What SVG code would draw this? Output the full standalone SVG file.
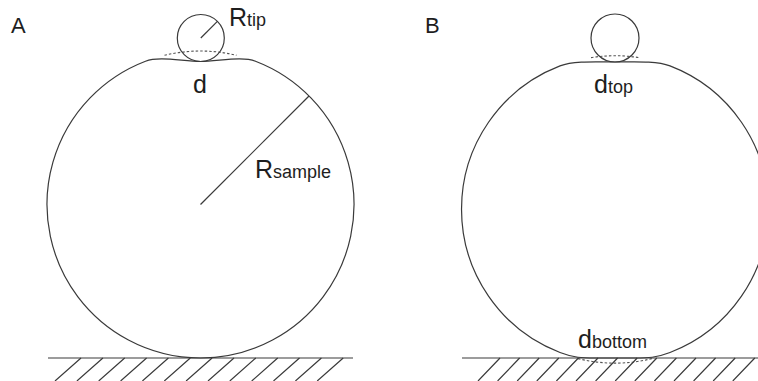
<svg xmlns="http://www.w3.org/2000/svg" width="758" height="381" viewBox="0 0 758 381">
<defs>
<style>
.ln{fill:none;stroke:#3a3a3a;stroke-width:1.2}
.dash{fill:none;stroke:#555;stroke-width:1.1;stroke-dasharray:2.5 2}
.lbl{font-family:"Liberation Sans",Arial,sans-serif;fill:#1e1e1e}
.big{font-size:25px}
.sub{font-size:18px}
.pan{font-size:22px}
</style>
</defs>
<rect width="758" height="381" fill="#ffffff"/>

<g id="panel-A">
  <text class="lbl pan" x="11" y="33">A</text>
  <g id="sample-A">
    <path class="ln" d="M145.5,61.2 A153.5,153.5 0 1 0 255.5,61.2 C241.5,55.8 218,61.5 200.5,61.5 C183,61.5 159.5,55.8 145.5,61.2 Z"/>
    <path class="dash" d="M164.5,55.3 A153.5,153.5 0 0 1 236.5,55.3"/>
  </g>
  <g id="tip-A">
    <circle class="ln" cx="200.8" cy="38" r="23.5"/>
  </g>
  <g id="ground-A">
    <path class="ln" d="M48,358 H353"/>
    <path class="ln" d="M81,358 l-26,23 M102.9,358 l-26,23 M124.7,358 l-26,23 M146.6,358 l-26,23 M168.4,358 l-26,23 M190.3,358 l-26,23 M212.1,358 l-26,23 M234,358 l-26,23 M255.8,358 l-26,23 M277.7,358 l-26,23 M299.5,358 l-26,23 M321.4,358 l-26,23 M343.2,358 l-26,23"/>
  </g>
  <text class="lbl big" x="193" y="93">d</text>
  <text class="lbl big" x="229" y="26">R<tspan class="sub">tip</tspan></text>
  <text class="lbl big" x="255" y="178">R<tspan class="sub" font-size="19">sample</tspan></text>
</g>

<g id="panel-B">
  <text class="lbl pan" x="425" y="33">B</text>
  <g id="sample-B">
    <path class="ln" d="M560,65.9 A153.5,153.5 0 0 0 560,352.5 C574,357.9 582,358 595,358 L635,358 C648,358 656,357.9 670,352.5 A153.5,153.5 0 0 0 670,65.9 C656,60.5 632,62 615,62 C598,62 574,60.5 560,65.9 Z"/>
    <path class="dash" d="M591,57.6 A153.5,153.5 0 0 1 639,57.6"/>
    <path class="dash" d="M578,358.6 A153.5,153.5 0 0 0 652,358.6"/>
  </g>
  <g id="tip-B">
    <circle class="ln" cx="615" cy="38" r="24"/>
  </g>
  <g id="ground-B">
    <path class="ln" d="M462,358 H758"/>
    <path class="ln" d="M500,358 l-22,23 M519.6,358 l-22,23 M539.2,358 l-22,23 M558.8,358 l-22,23 M578.4,358 l-22,23 M598,358 l-22,23 M617.6,358 l-22,23 M637.2,358 l-22,23 M656.8,358 l-22,23 M676.4,358 l-22,23 M696,358 l-22,23 M715.6,358 l-22,23 M735.2,358 l-22,23 M754.8,358 l-22,23"/>
  </g>
  <text class="lbl big" x="594" y="93">d<tspan class="sub">top</tspan></text>
  <text class="lbl big" x="578" y="348">d<tspan class="sub">bottom</tspan></text>
</g>

<g id="connectors">
  <path class="ln" d="M200.8,38 L217.4,21.4"/>
  <path class="ln" d="M200.5,204.5 L309,96"/>
</g>
</svg>
